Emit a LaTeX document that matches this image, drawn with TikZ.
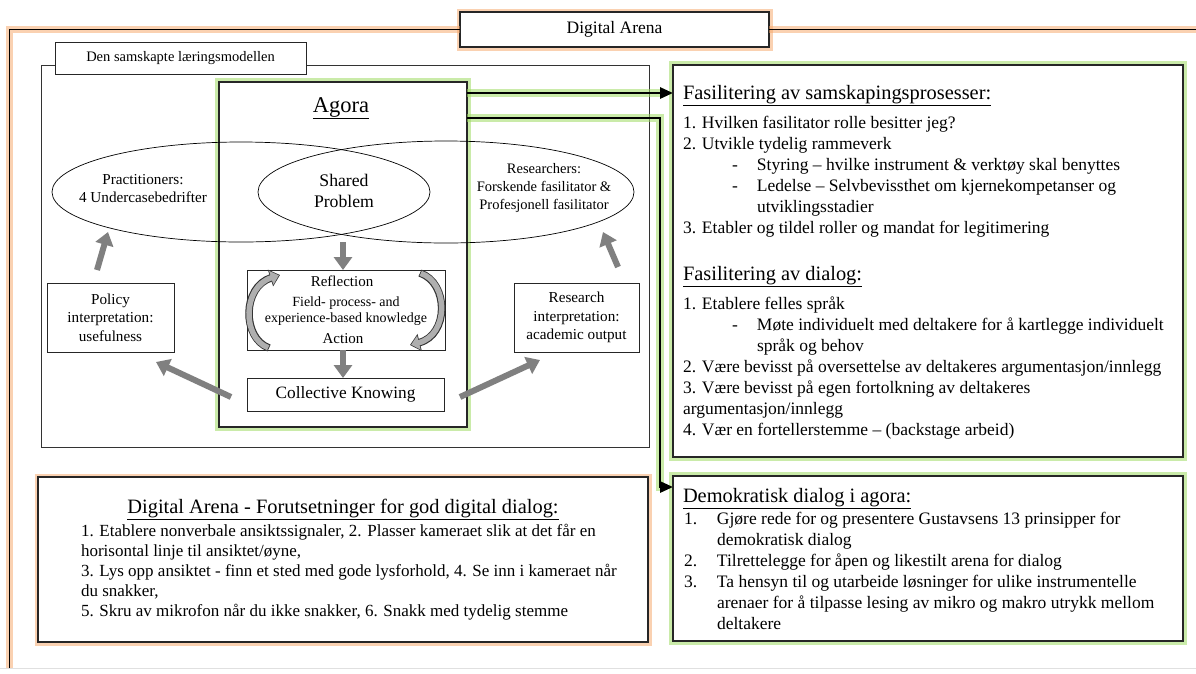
\documentclass[tikz,border=0pt]{standalone}
\usepackage{fontspec}
\setmainfont{Liberation Serif}
\usetikzlibrary{arrows.meta,shapes.geometric}
\definecolor{glowgreen}{RGB}{160,220,100}
\definecolor{gloworange}{RGB}{247,165,100}
\definecolor{arrgray}{RGB}{128,128,128}
\definecolor{curvgray}{RGB}{175,175,175}
\newcommand{\fs}[2]{\fontsize{#1}{#2}\selectfont}
\begin{document}
\begin{tikzpicture}[x=1pt,y=-1pt,
  every node/.style={inner sep=0pt, outer sep=0pt},
  box/.style={draw=black!85, line width=0.9pt, fill=white, anchor=north west, inner sep=0pt},
  gglow/.style={preaction={draw=glowgreen, line width=8pt, opacity=0.55}},
  oglow/.style={preaction={draw=gloworange, line width=7pt, opacity=0.5}},
  conn/.style={draw=black, line width=2.6pt, -{Triangle[width=11pt,length=13pt]}, gglow},
  garrow/.style={draw=arrgray, line width=6pt, -{Triangle[width=18pt,length=13pt]}},
  cout/.style={draw=black!80, line width=7.5pt, -{Triangle[width=17pt,length=10pt]}},
  cin/.style={draw=curvgray, line width=5.5pt, -{Triangle[width=14pt,length=8pt]}, shorten >=1.2pt, shorten <=0.8pt},
  lbl/.style={align=center},
  body/.style={align=left, anchor=north west, font=\fs{17.5}{21}},
  ttl/.style={anchor=base west, font=\fs{20.4}{24}},
]
\useasboundingbox (0,0) rectangle (1196,673);
\fill[white] (0,0) rectangle (1196,673);

% faint page edge
\coordinate (bl) at (0,668); \coordinate (br) at (1196,668);
\draw[black!12, line width=0.8pt] (bl) -- (br);

% Digital Arena frame
\node[box, oglow, line width=1.6pt, minimum width=309pt, minimum height=35pt, font=\fs{17.5}{21}] (da) at (460,12) {Digital Arena};
\coordinate (ot) at (9,29.5); \coordinate (ob) at (9,668); \coordinate (or) at (1196,29.5);
\draw[oglow, line width=1pt] (ob) -- (ot) -- (da.west |- ot);
\draw[oglow, line width=1pt] (da.east |- ot) -- (or);

% model frame
\node[box, draw=black!80, line width=0.8pt, minimum width=608pt, minimum height=382pt] (model) at (41,65) {};
\node[box, line width=0.8pt, minimum width=251pt, minimum height=32pt, font=\fs{14.5}{18}] (lab) at (55,42) {Den samskapte læringsmodellen};

% Agora
\node[box, gglow, line width=1.6pt, minimum width=248pt, minimum height=345pt] (agora) at (219,82) {};
\node[anchor=base, font=\fs{22.5}{26}] (agt) at (341,112) {\underline{Agora}};

% ellipses
\node[ellipse, draw, line width=0.7pt, minimum width=378pt, minimum height=100pt] (e1) at (241,192) {};
\node[ellipse, draw, line width=0.7pt, minimum width=376pt, minimum height=102pt] (e2) at (446,192) {};
\node[lbl, font=\fs{15.2}{18}] (prac) at (143,189) {Practitioners:\\4 Undercasebedrifter};
\node[lbl, font=\fs{17.7}{21}] (shp) at (344,190.5) {Shared\\Problem};
\node[lbl, font=\fs{14.5}{18}] (res) at (544,188) {Researchers:\\Forskende fasilitator \&\\Profesjonell fasilitator};

% reflection box
\node[box, line width=0.9pt, minimum width=198pt, minimum height=80pt] (refl) at (247,270) {};
\coordinate (c1a) at (269,348); \coordinate (c1b) at (280,275);
\draw[cout] (c1a) .. controls (242,338) and (242,287) .. (c1b);
\draw[cin] (c1a) .. controls (242,338) and (242,287) .. (c1b);
\coordinate (c2a) at (420,273); \coordinate (c2b) at (410,345);
\draw[cout] (c2a) .. controls (449,283) and (449,335) .. (c2b);
\draw[cin] (c2a) .. controls (449,283) and (449,335) .. (c2b);
\node[font=\fs{15}{18}] (rt) at (342,281) {Reflection};
\node[lbl, font=\fs{14}{16}] (ft) at (346,311) {Field- process- and\\experience-based knowledge};
\node[font=\fs{15}{18}] (actt) at (343,339) {Action};

\node[box, line width=0.9pt, minimum width=197pt, minimum height=33pt, font=\fs{17.3}{21}] (ck) at (247,378) {Collective Knowing};
\node[box, line width=0.9pt, minimum width=127pt, minimum height=69pt, align=center, font=\fs{15.2}{18.5}] (pol) at (47,283) {Policy\\interpretation:\\usefulness};
\node[box, line width=0.9pt, minimum width=125pt, minimum height=69pt, align=center, font=\fs{15.2}{18.5}] (rsi) at (514,283) {Research\\interpretation:\\academic output};

% gray arrows
\coordinate (g1a) at (97,270); \coordinate (g1b) at (108,232);
\draw[garrow] (g1a) -- (g1b);
\coordinate (g2a) at (618,267); \coordinate (g2b) at (603,232);
\draw[garrow] (g2a) -- (g2b);
\coordinate (d1s) at (343,242);
\draw[garrow] (d1s) -- (d1s |- refl.north);
\draw[garrow] (d1s |- refl.south) -- (d1s |- ck.north);
\coordinate (g3a) at (231,397); \coordinate (g3b) at (156,362);
\draw[garrow] (g3a) -- (g3b);
\coordinate (g4a) at (460,397); \coordinate (g4b) at (540,360);
\draw[garrow] (g4a) -- (g4b);

% right boxes
\node[box, gglow, line width=1.6pt, minimum width=510pt, minimum height=392pt] (fas) at (673,65) {};
\node[box, gglow, line width=1.6pt, minimum width=510pt, minimum height=165pt] (demo) at (673,476) {};
\node[box, oglow, line width=1.6pt, minimum width=610pt, minimum height=165pt] (dab) at (38,477) {};

% connectors
\coordinate (a1) at (0,93);
\draw[conn] (agora.east |- a1) -- (fas.west |- a1);
\coordinate (a2) at (660,118); \coordinate (a3) at (660,487);
\draw[conn] (agora.east |- a2) -- (a2) -- (a3) -- (demo.west |- a3);

% texts right box 1
\node[ttl] (f1t) at (683,99) {\underline{Fasilitering av samskapingsprosesser:}};
\node[body] (f1l) at (683,113.3) {\strut 1. Hvilken fasilitator rolle besitter jeg?\\
2. Utvikle tydelig rammeverk\\
\makebox[74pt][l]{\hspace*{49pt}-}Styring – hvilke instrument \& verktøy skal benyttes\\
\makebox[74pt][l]{\hspace*{49pt}-}Ledelse – Selvbevissthet om kjernekompetanser og\\
\hspace*{74pt}utviklingsstadier\\
3. Etabler og tildel roller og mandat for legitimering};
\node[ttl] (f2t) at (683,280) {\underline{Fasilitering av dialog:}};
\node[body] (f2l) at (683,294.3) {\strut 1. Etablere felles språk\\
\makebox[74pt][l]{\hspace*{49pt}-}Møte individuelt med deltakere for å kartlegge individuelt\\
\hspace*{74pt}språk og behov\\
2. Være bevisst på oversettelse av deltakeres argumentasjon/innlegg\\
3. Være bevisst på egen fortolkning av deltakeres\\
argumentasjon/innlegg\\
4. Vær en fortellerstemme – (backstage arbeid)};

% texts right box 2
\node[ttl] (dt) at (683,502) {\underline{Demokratisk dialog i agora:}};
\node[body] (dl) at (684,509.3) {\strut\makebox[33pt][l]{1.}Gjøre rede for og presentere Gustavsens 13 prinsipper for\\
\hspace*{33pt}demokratisk dialog\\
\makebox[33pt][l]{2.}Tilrettelegge for åpen og likestilt arena for dialog\\
\makebox[33pt][l]{3.}Ta hensyn til og utarbeide løsninger for ulike instrumentelle\\
\hspace*{33pt}arenaer for å tilpasse lesing av mikro og makro utrykk mellom\\
\hspace*{33pt}deltakere};

% bottom-left box texts
\node[anchor=base, font=\fs{20.4}{24}] (dabt) at (343,513) {\underline{Digital Arena - Forutsetninger for god digital dialog:}};
\node[body, font=\fs{17}{20}] (dabl) at (81,522) {\strut 1. Etablere nonverbale ansiktssignaler, 2. Plasser kameraet slik at det får en\\
horisontal linje til ansiktet/øyne,\\
3. Lys opp ansiktet - finn et sted med gode lysforhold, 4. Se inn i kameraet når\\
du snakker,\\
5. Skru av mikrofon når du ikke snakker, 6. Snakk med tydelig stemme};
\end{tikzpicture}
\end{document}
